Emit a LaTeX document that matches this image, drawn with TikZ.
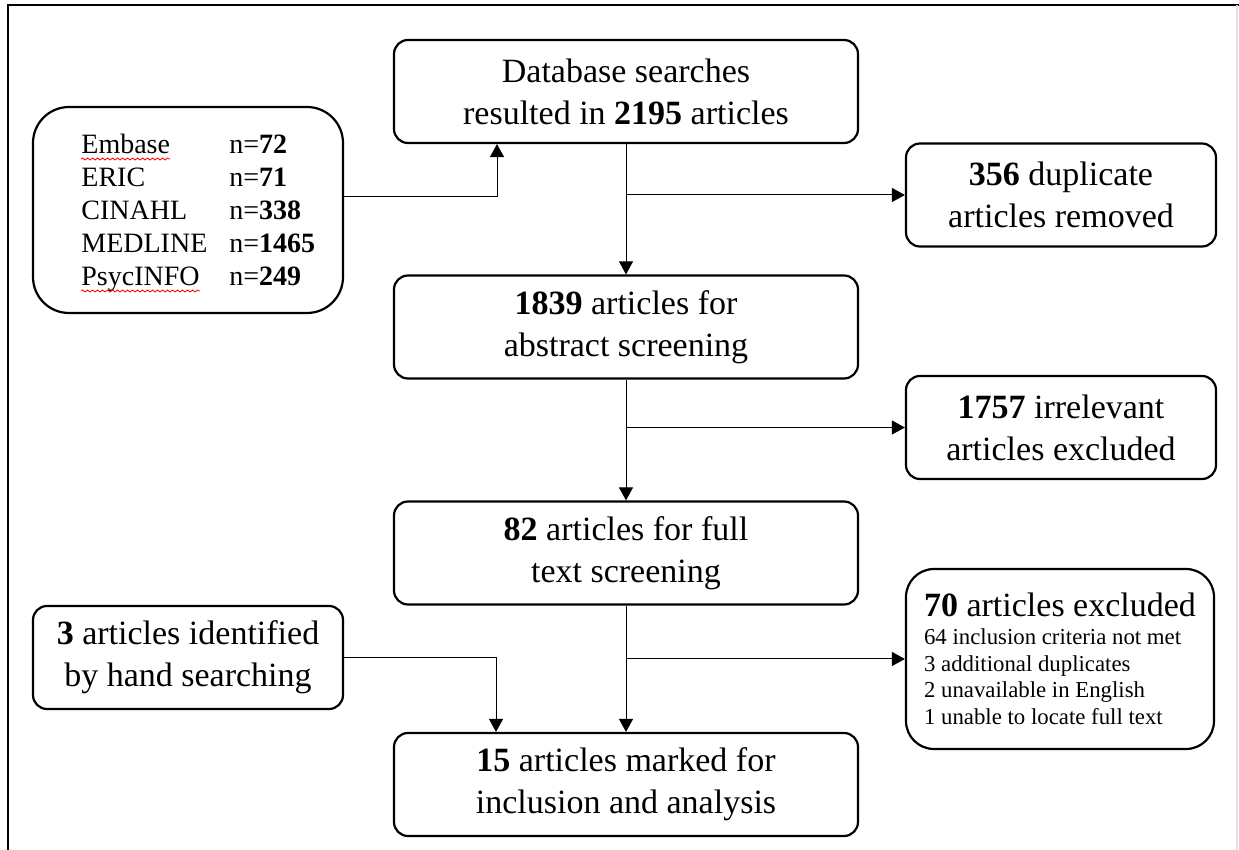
\documentclass[tikz,border=0pt]{standalone}
\usepackage{fontspec}
\setmainfont{Liberation Serif}
\usepackage{tikz}
\usetikzlibrary{arrows.meta,positioning,decorations.pathmorphing}
\newcommand{\mainsize}{\fontsize{17pt}{21pt}\selectfont}
\newcommand{\srcsize}{\fontsize{14pt}{16.5pt}\selectfont}
\newcommand{\subsize}{\fontsize{11.4pt}{13.3pt}\selectfont}
\tikzset{
  box/.style    ={draw, rounded corners=7pt, line width=1.1pt,
                  minimum width=232pt, minimum height=51.5pt,
                  inner sep=2pt, align=center, font=\mainsize},
  sidebox/.style={box, minimum width=155pt},
  srcbox/.style ={draw, rounded corners=18pt, line width=1.1pt,
                  minimum width=155pt, minimum height=103pt},
  xbox/.style   ={draw, rounded corners=14pt, line width=1.1pt,
                  minimum width=154pt, minimum height=90pt,
                  inner sep=2pt, align=left, font=\subsize},
  dbname/.style ={anchor=base west, inner sep=0pt, font=\srcsize},
  arr/.style    ={-{Triangle[length=6.5pt,width=7pt]}, line width=0.5pt},
  frame/.style  ={line width=1pt},
  spell/.style  ={red, line width=0.4pt, decorate,
                  decoration={snake, amplitude=0.5pt, segment length=2.5pt}},
}
\begin{document}
\begin{tikzpicture}[x=0.5pt, y=-0.5pt]
  \useasboundingbox (0,0) rectangle (1239,850);
  % page frame
  \draw[frame] (8,850) -- (8,5) -- (1239,5);
  \draw[frame, black!12] (1237,5) -- (1237,850);

  % main column
  \node[box] (search) at (626,91.5) {Database searches\\resulted in \textbf{2195} articles};
  \node[box] (abstr) at (626,327) {\textbf{1839} articles for\\abstract screening};
  \node[box] (full) at (626,553) {\textbf{82} articles for full\\text screening};
  \node[box] (incl) at (626,784.5) {\textbf{15} articles marked for\\inclusion and analysis};

  % side boxes
  \node[sidebox] (dup) at (1061,195) {\textbf{356} duplicate\\articles removed};
  \node[sidebox] (irrel) at (1061,427.5) {\textbf{1757} irrelevant\\articles excluded};
  \node[xbox] (excl) at (1060,659)
    {{\mainsize\textbf{70} articles excluded}\\[0.7pt]
     64 inclusion criteria not met\\
     3 additional duplicates\\
     2 unavailable in English\\
     1 unable to locate full text};
  \node[sidebox] (hand) at (188,657.5) {\textbf{3} articles identified\\by hand searching};

  % database sources
  \node[srcbox] (src) at (188,210) {};
  \foreach \db/\num [count=\i] in {Embase/72, ERIC/71, CINAHL/338, MEDLINE/1465, PsycINFO/249} {
    \node[dbname] (db\i) at (81,121+33*\i) {\db};
    \node[dbname] (n\i) at (229,121+33*\i) {n=\textbf{\num}};
  }
  \draw[spell] ([yshift=-2.5pt]db1.base west) -- ([yshift=-2.5pt]db1.base east);
  \draw[spell] ([yshift=-2.5pt]db5.base west) -- ([yshift=-2.5pt]db5.base east);

  % connectors
  \coordinate (j1) at (497,197);
  \coordinate (j2) at (496,657);
  \draw[arr] (src.east |- j1) -| (search.south -| j1);
  \draw[arr] (search) -- (abstr);
  \draw[arr] (search.south |- dup.west) -- (dup.west);
  \draw[arr] (abstr) -- (full);
  \draw[arr] (abstr.south |- irrel.west) -- (irrel.west);
  \draw[arr] (full) -- (incl);
  \draw[arr] (full.south |- excl.west) -- (excl.west);
  \draw[arr] (hand.east) -| (incl.north -| j2);
\end{tikzpicture}
\end{document}
